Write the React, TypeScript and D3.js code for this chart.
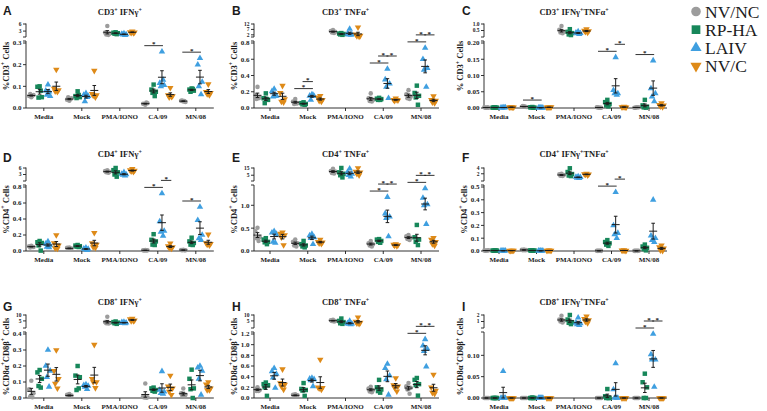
import * as d3 from 'd3';
import * as React from 'react';

const categories = ['Media', 'Mock', 'PMA/IONO', 'CA/09', 'MN/08'];
const groups = ['NV/NC', 'RP-HA', 'LAIV', 'NV/C'];
const groupColors = ['#9c9c9c', '#17875a', '#3f9fe0', '#de8a18'];

// % positive cells: [category][group][animal]
const cd3Ifng = [
  [[0.05, 0.055, 0.06, 0.065, 0.058], [0.1, 0.098, 0.05, 0.048, 0.08], [0.108, 0.08, 0.055, 0.06, 0.075], [0.177, 0.09, 0.083, 0.077, 0.075]],
  [[0.033, 0.038, 0.045, 0.05, 0.04], [0.077, 0.055, 0.05, 0.046, 0.06], [0.068, 0.06, 0.055, 0.03, 0.05], [0.172, 0.065, 0.06, 0.058, 0.05]],
  [[5.2, 2.4, 1.9, 1.6, 1.4], [2.5, 2.3, 2.1, 1.9, 1.7], [2.0, 1.8, 1.6, 1.5, 1.3], [2.9, 2.6, 2.5, 2.3, 2.2]],
  [[0.015, 0.02, 0.022, 0.018, 0.025], [0.108, 0.085, 0.075, 0.07, 0.055], [0.26, 0.115, 0.105, 0.1, 0.13], [0.093, 0.06, 0.055, 0.05, 0.052]],
  [[0.03, 0.033, 0.028, 0.035, 0.032], [0.09, 0.085, 0.08, 0.075, 0.088], [0.23, 0.2, 0.12, 0.1, 0.063], [0.11, 0.075, 0.07, 0.065, 0.06]],
];
const cd3Tnfa = [
  [[0.26, 0.16, 0.13, 0.11, 0.12], [0.18, 0.12, 0.1, 0.06, 0.11], [0.235, 0.205, 0.15, 0.14, 0.15], [0.275, 0.185, 0.11, 0.08, 0.07]],
  [[0.11, 0.08, 0.06, 0.05, 0.055], [0.07, 0.06, 0.05, 0.045, 0.04], [0.165, 0.15, 0.145, 0.1, 0.16], [0.15, 0.13, 0.1, 0.09, 0.08]],
  [[6.5, 5.5, 4.8, 4.2, 3.8], [3.6, 3.2, 2.8, 2.4, 2.0], [7.4, 3, 2.4, 2.2, 2.0], [9, 2.5, 1.2, 0.8, 0.5]],
  [[0.18, 0.12, 0.1, 0.085, 0.08], [0.125, 0.115, 0.11, 0.1, 0.1], [0.48, 0.35, 0.3, 0.26, 0.12], [0.12, 0.1, 0.095, 0.09, 0.1]],
  [[0.22, 0.17, 0.14, 0.12, 0.11], [0.275, 0.185, 0.15, 0.13, 0.04], [0.74, 0.6, 0.49, 0.47, 0.26], [0.145, 0.1, 0.09, 0.07, 0.06]],
];
const cd3Double = [
  [[0.001, 0.002, 0.001, 0.001, 0.002], [0.002, 0.001, 0.001, 0.002, 0.001], [0.002, 0.001, 0.002, 0.001, 0.001], [0.003, 0.002, 0.002, 0.003, 0.002]],
  [[0.005, 0.004, 0.003, 0.006, 0.004], [0.003, 0.002, 0.001, 0.002, 0.001], [0.001, 0.001, 0.0005, 0.001, 0.001], [0.002, 0.002, 0.003, 0.002, 0.002]],
  [[0.85, 0.55, 0.4, 0.35, 0.28], [0.6, 0.4, 0.3, 0.2, 0.15], [0.42, 0.33, 0.3, 0.28, 0.22], [0.6, 0.5, 0.45, 0.4, 0.35]],
  [[0.001, 0.002, 0.001, 0.002, 0.001], [0.025, 0.018, 0.012, 0.008, 0.005], [0.156, 0.055, 0.045, 0.045, 0.04], [0.004, 0.003, 0.002, 0.003, 0.002]],
  [[0.002, 0.001, 0.002, 0.001, 0.002], [0.025, 0.008, 0.004, 0.002, 0.001], [0.146, 0.06, 0.045, 0.035, 0.02], [0.015, 0.01, 0.008, 0.005, 0.003]],
];
const cd4Ifng = [
  [[0.065, 0.06, 0.05, 0.045, 0.05], [0.125, 0.11, 0.1, 0.07, 0.005], [0.12, 0.09, 0.07, 0.05, 0.045], [0.2, 0.1, 0.07, 0.035, 0.03]],
  [[0.045, 0.04, 0.03, 0.025, 0.025], [0.075, 0.068, 0.06, 0.055, 0.05], [0.04, 0.03, 0.025, 0.02, 0.01], [0.228, 0.1, 0.08, 0.05, 0.04]],
  [[5, 4.6, 4.3, 4, 3.8], [6, 5, 4, 3, 2], [4, 3.3, 3, 2.8, 2.5], [5.6, 5, 4.8, 4.5, 4.2]],
  [[0.012, 0.01, 0.008, 0.006, 0.005], [0.21, 0.14, 0.12, 0.08, 0.075], [0.72, 0.37, 0.25, 0.24, 0.19], [0.095, 0.06, 0.05, 0.04, 0.03]],
  [[0.015, 0.012, 0.01, 0.01, 0.008], [0.166, 0.12, 0.1, 0.08, 0.075], [0.55, 0.385, 0.2, 0.157, 0.137], [0.207, 0.1, 0.09, 0.08, 0.07]],
];
const cd4Tnfa = [
  [[0.51, 0.43, 0.3, 0.28, 0.22], [0.28, 0.25, 0.2, 0.19, 0.15], [0.43, 0.4, 0.37, 0.2, 0.18], [0.41, 0.38, 0.35, 0.3, 0.13]],
  [[0.25, 0.2, 0.17, 0.12, 0.1], [0.22, 0.15, 0.12, 0.1, 0.08], [0.37, 0.34, 0.3, 0.28, 0.15], [0.25, 0.2, 0.19, 0.17, 0.16]],
  [[14, 11, 10, 8, 7.5], [15, 9, 7, 5, 2], [14, 9, 7, 5, 3], [15, 10, 9, 7, 5]],
  [[0.22, 0.17, 0.15, 0.12, 0.1], [0.26, 0.25, 0.22, 0.2, 0.18], [1.18, 0.82, 0.75, 0.72, 0.32], [0.15, 0.14, 0.13, 0.12, 0.11]],
  [[0.35, 0.32, 0.29, 0.26, 0.24], [0.57, 0.3, 0.25, 0.2, 0.13], [1.37, 1.16, 1.02, 1.0, 0.59], [0.29, 0.25, 0.2, 0.15, 0.12]],
];
const cd4Double = [
  [[0.004, 0.003, 0.005, 0.002, 0.003], [0.005, 0.004, 0.003, 0.002, 0.004], [0.003, 0.002, 0.002, 0.003, 0.001], [0.004, 0.003, 0.003, 0.002, 0.003]],
  [[0.012, 0.01, 0.008, 0.005, 0.005], [0.006, 0.005, 0.004, 0.003, 0.002], [0.003, 0.002, 0.002, 0.001, 0.001], [0.005, 0.004, 0.004, 0.003, 0.003]],
  [[2.0, 1.8, 1.6, 1.3, 1.2], [3.9, 2.6, 1.9, 1.4, 1.2], [1.1, 0.9, 0.8, 0.6, 0.5], [2.1, 1.9, 1.8, 1.7, 1.5]],
  [[0.002, 0.002, 0.001, 0.001, 0.002], [0.085, 0.07, 0.06, 0.05, 0.04], [0.46, 0.2, 0.14, 0.13, 0.1], [0.006, 0.005, 0.004, 0.003, 0.002]],
  [[0.002, 0.001, 0.002, 0.001, 0.001], [0.05, 0.035, 0.025, 0.015, 0.005], [0.4, 0.12, 0.1, 0.085, 0.07], [0.045, 0.03, 0.02, 0.005, 0.002]],
];
const cd8Ifng = [
  [[0.108, 0.055, 0.03, 0.01, 0.005], [0.175, 0.16, 0.12, 0.075, 0.065], [0.3, 0.2, 0.17, 0.13, 0.07], [0.3, 0.17, 0.12, 0.09, 0.06]],
  [[0.025, 0.02, 0.015, 0.01, 0.01], [0.2, 0.14, 0.13, 0.05, 0.06], [0.085, 0.08, 0.075, 0.07, 0.055], [0.333, 0.12, 0.1, 0.1, 0.063]],
  [[8.6, 4, 3.3, 3, 2.8], [4.5, 4, 3.5, 3, 2.5], [4.2, 3.8, 3.5, 3.2, 2.8], [7, 6.5, 5.5, 5, 5]],
  [[0.09, 0.01, 0.005, 0.003, 0.002], [0.065, 0.06, 0.05, 0.045, 0.04], [0.167, 0.05, 0.04, 0.03, 0.025], [0.14, 0.073, 0.06, 0.04, 0.02]],
  [[0.06, 0.03, 0.02, 0.015, 0.01], [0.177, 0.12, 0.06, 0.055, 0.0], [0.2, 0.19, 0.17, 0.12, 0.02], [0.1, 0.085, 0.06, 0.05, 0.05]],
];
const cd8Tnfa = [
  [[0.2, 0.17, 0.15, 0.13, 0.13], [0.29, 0.26, 0.24, 0.2, 0.04], [0.56, 0.5, 0.45, 0.38, 0.19], [0.54, 0.28, 0.25, 0.22, 0.16]],
  [[0.07, 0.06, 0.05, 0.04, 0.03], [0.28, 0.17, 0.15, 0.14, 0.04], [0.375, 0.36, 0.35, 0.33, 0.22], [0.72, 0.2, 0.19, 0.18, 0.16]],
  [[6, 5.5, 5, 5, 4.5], [7, 5, 4, 3, 2.5], [5, 3, 2.6, 2.4, 2], [8, 4.5, 3.5, 3, 2.5]],
  [[0.21, 0.18, 0.15, 0.12, 0.11], [0.34, 0.2, 0.16, 0.13, 0.1], [0.64, 0.56, 0.42, 0.35, 0.06], [0.375, 0.24, 0.22, 0.19, 0.125]],
  [[0.28, 0.22, 0.19, 0.16, 0.08], [0.375, 0.34, 0.26, 0.24, 0.044], [1.1, 0.98, 0.92, 0.88, 0.59], [0.44, 0.2, 0.14, 0.1, 0.08]],
];
const cd8Double = [
  [[0, 0, 0, 0, 0], [0, 0, 0, 0, 0], [0.063, 0, 0, 0, 0], [0, 0, 0, 0, 0]],
  [[0, 0, 0, 0, 0], [0.001, 0, 0, 0, 0], [0, 0, 0, 0, 0], [0, 0, 0, 0, 0]],
  [[1.9, 1.3, 1.1, 1.0, 0.85], [2.0, 1.3, 0.9, 0.8, 0.6], [1.6, 0.8, 0.7, 0.55, 0.45], [1.8, 1.4, 1.2, 1.0, 0.75]],
  [[0, 0, 0, 0, 0], [0.021, 0.004, 0, 0, 0], [0.081, 0.02, 0, 0, 0], [0, 0, 0, 0, 0]],
  [[0, 0, 0, 0, 0], [0.057, 0.037, 0.025, 0, 0], [0.15, 0.102, 0.09, 0.09, 0.026], [0, 0, 0, 0, 0]],
];

// axis ticks: lower segment, and the segment above the break (PMA/IONO)
const lowTicks = [
  [0, 0.1, 0.2, 0.3], [0, 0.2, 0.4, 0.6, 0.8], [0, 0.05, 0.1, 0.15, 0.2],
  [0, 0.2, 0.4, 0.6, 0.8], [0, 0.5, 1.0], [0, 0.1, 0.2, 0.3, 0.4, 0.5],
  [0, 0.1, 0.2, 0.3, 0.4], [0, 0.2, 0.4, 0.6, 0.8, 1.0, 1.2], [0, 0.05, 0.1],
];
const lowMax = [0.3, 0.8, 0.2, 0.8, 1.4, 0.5, 0.4, 1.2, 0.15];
const highTicks = [[3, 6], [2, 7, 12], [0.5, 1.0], [3, 6], [5, 15], [2, 4], [5, 10], [5, 10], [1, 2]];
const highDomains = [[0.5, 6], [0, 12], [0, 1], [0, 6], [-3, 15], [-0.5, 4], [-1, 10], [-1, 10], [0, 2]];

// significance brackets: [category, group from, group to, stack level]
type Sig = [string, number, number, number];
const cd3IfngSig: Sig[] = [['CA/09', 0, 2, 0], ['MN/08', 0, 2, 0]];
const cd3TnfaSig: Sig[] = [
  ['Mock', 0, 2, 0], ['Mock', 1, 2, 1],
  ['CA/09', 0, 2, 0], ['CA/09', 1, 2, 1], ['CA/09', 2, 3, 1],
  ['MN/08', 0, 2, 0], ['MN/08', 1, 2, 1], ['MN/08', 2, 3, 1],
];
const cd3DoubleSig: Sig[] = [['Mock', 0, 2, 0], ['CA/09', 0, 2, 0], ['CA/09', 2, 3, 1], ['MN/08', 0, 2, 0]];
const cd4IfngSig: Sig[] = [['CA/09', 0, 2, 0], ['CA/09', 2, 3, 1], ['MN/08', 0, 2, 0]];
const cd4TnfaSig: Sig[] = [
  ['CA/09', 0, 2, 0], ['CA/09', 1, 2, 1], ['CA/09', 2, 3, 1],
  ['MN/08', 0, 2, 0], ['MN/08', 1, 2, 1], ['MN/08', 2, 3, 1],
];
const cd4DoubleSig: Sig[] = [['CA/09', 0, 2, 0], ['CA/09', 2, 3, 1]];
const cd8IfngSig: Sig[] = [];
const cd8TnfaSig: Sig[] = [['MN/08', 0, 2, 0], ['MN/08', 1, 2, 1], ['MN/08', 2, 3, 1]];
const cd8DoubleSig: Sig[] = [['MN/08', 0, 2, 0], ['MN/08', 1, 2, 1], ['MN/08', 2, 3, 1]];

const panels = [
  { letter: 'A', title: 'CD3^+ IFNγ^+', yTitle: '%CD3^+ Cells', data: cd3Ifng, sig: cd3IfngSig },
  { letter: 'B', title: 'CD3^+ TNFα^+', yTitle: '%CD3^+ Cells', data: cd3Tnfa, sig: cd3TnfaSig },
  { letter: 'C', title: 'CD3^+ IFNγ^+TNFα^+', yTitle: '% CD3^+ Cells', data: cd3Double, sig: cd3DoubleSig },
  { letter: 'D', title: 'CD4^+ IFNγ^+', yTitle: '%CD4^+ Cells', data: cd4Ifng, sig: cd4IfngSig },
  { letter: 'E', title: 'CD4^+ TNFα^+', yTitle: '%CD4^+ Cells', data: cd4Tnfa, sig: cd4TnfaSig },
  { letter: 'F', title: 'CD4^+ IFNγ^+TNFα^+', yTitle: '%CD4^+ Cells', data: cd4Double, sig: cd4DoubleSig },
  { letter: 'G', title: 'CD8^+ IFNγ^+', yTitle: '%CD8α^+CD8β^+ Cells', data: cd8Ifng, sig: cd8IfngSig },
  { letter: 'H', title: 'CD8^+ TNFα^+', yTitle: '%CD8α^+CD8β^+ Cells', data: cd8Tnfa, sig: cd8TnfaSig },
  { letter: 'I', title: 'CD8^+ IFNγ^+TNFα^+', yTitle: '%CD8α^+CD8β^+ Cells', data: cd8Double, sig: cd8DoubleSig },
];

// grid layout
const AXIS_X = [26, 254, 484];
const CENTERS: [number, number][] = [[43.8, 195.8], [270, 421], [499, 649]];
const ROW_TOP = [24, 168, 315];
const ROW_BOTTOM = [108, 251, 398];
const LETTER_X = [3, 232, 462];
const LETTER_Y = [15, 162, 311];
const TITLE_Y = [15, 157, 305];

const SERIF = "'Liberation Serif', 'Times New Roman', serif";
const SANS = "'Liberation Sans', Arial, sans-serif";
const INK = '#1c1c1c';
const jitter = [0, -2.2, 2.2, -1.1, 1.1];
const markSize = [16, 20, 18, 18];

const symbolPath = (gi: number, size: number) =>
  d3.symbol().type([d3.symbolCircle, d3.symbolSquare, d3.symbolTriangle, d3.symbolTriangle][gi])
    .size(size)() as string;

function Sup({ text, size }: { text: string; size: number }) {
  const parts = text.split(/(\^.)/).filter((s) => s !== '');
  const rise = size * 0.38;
  let up = false;
  return (
    <>
      {parts.map((s, i) => {
        if (s[0] === '^') {
          up = true;
          return <tspan key={i} dy={-rise} fontSize={size * 0.7}>{s.slice(1)}</tspan>;
        }
        const dy = up ? rise : 0;
        up = false;
        return <tspan key={i} dy={dy}>{s}</tspan>;
      })}
    </>
  );
}

const fmtTick = (ticks: number[]) => {
  if (ticks.every((t) => Number.isInteger(t))) return d3.format('d');
  return ticks.some((t) => Math.round(t * 100) % 10 !== 0) ? d3.format('.2f') : d3.format('.1f');
};

function Panel({ idx }: { idx: number }) {
  const p = panels[idx];
  const col = idx % 3;
  const row = Math.floor(idx / 3);
  const ax = AXIS_X[col];
  const top = ROW_TOP[row];
  const bottom = ROW_BOTTOM[row];
  const x = d3.scalePoint<string>().domain(categories).range(CENTERS[col]);
  const gx = d3.scalePoint<number>().domain([0, 1, 2, 3]).range([-12.5, 12.5]);
  const yLow = d3.scaleLinear().domain([0, lowMax[idx]]).range([bottom, top + 19]).clamp(true);
  const yHigh = d3.scaleLinear().domain(highDomains[idx]).range([top + 13, top]);
  const xEnd = CENTERS[col][1] + 18;
  const lowFmt = fmtTick(lowTicks[idx]);
  const highFmt = fmtTick(highTicks[idx]);
  const labelChars = d3.max(lowTicks[idx].map(lowFmt), (s) => s.length)!;
  const yTitleX = ax - 4 - labelChars * 3.5 - 3;

  return (
    <g>
      <text x={LETTER_X[col]} y={LETTER_Y[row]} fontFamily={SANS} fontWeight="bold" fontSize={12} fill={INK}>
        {p.letter}
      </text>
      <text x={x('PMA/IONO')} y={TITLE_Y[row]} textAnchor="middle" fontFamily={SERIF} fontWeight="bold"
        fontSize={8.5} fill={INK}>
        <Sup text={p.title} size={8.5} />
      </text>
      <text transform={`translate(${yTitleX},${(top + bottom) / 2}) rotate(-90)`} textAnchor="middle"
        fontFamily={SERIF} fontWeight="bold" fontSize={8.5} fill={INK}>
        <Sup text={p.yTitle} size={8.5} />
      </text>

      {/* broken y axis */}
      <g stroke={INK} strokeWidth={0.9} fill="none">
        <path d={`M${ax},${top - 0.5}V${top + 13}h-3`} />
        <path d={`M${ax - 3},${top + 17}h3V${bottom}`} />
        <path d={`M${ax},${bottom}H${xEnd}`} />
        {lowTicks[idx].map((t) => <path key={`l${t}`} d={`M${ax - 3},${yLow(t)}h3`} />)}
        {highTicks[idx].map((t) => <path key={`h${t}`} d={`M${ax - 3},${yHigh(t)}h3`} />)}
        {categories.map((c) => <path key={c} d={`M${x(c)},${bottom}v3`} />)}
      </g>
      <g fontFamily={SERIF} fontWeight="bold" fill={INK} textAnchor="end">
        {lowTicks[idx].map((t) => (
          <text key={`l${t}`} x={ax - 4.5} y={yLow(t)} dy="0.35em" fontSize={7}>{lowFmt(t)}</text>
        ))}
        {highTicks[idx].map((t) => (
          <text key={`h${t}`} x={ax - 4.5} y={yHigh(t)} dy="0.35em" fontSize={5.5}>{highFmt(t)}</text>
        ))}
      </g>
      <g fontFamily={SERIF} fontWeight="bold" fontSize={7} fill={INK} textAnchor="middle">
        {categories.map((c) => <text key={c} x={x(c)} y={bottom + 11}>{c}</text>)}
      </g>

      {/* animals */}
      {p.data.map((byGroup, ci) => {
        const y = categories[ci] === 'PMA/IONO' ? yHigh : yLow;
        const cx0 = x(categories[ci])!;
        return byGroup.map((vals, gi) => (
          <g key={`${ci}-${gi}`} fill={groupColors[gi]}>
            {vals.map((v, k) => (
              <path key={k} d={symbolPath(gi, markSize[gi])}
                transform={`translate(${cx0 + gx(gi)! + jitter[k]},${y(v)})${gi === 3 ? ' rotate(180)' : ''}`} />
            ))}
          </g>
        ));
      })}

      {/* mean ± SEM */}
      <g stroke={INK} strokeWidth={1} fill="none">
        {p.data.map((byGroup, ci) => {
          const y = categories[ci] === 'PMA/IONO' ? yHigh : yLow;
          const cx0 = x(categories[ci])!;
          return byGroup.map((vals, gi) => {
            const cx = cx0 + gx(gi)!;
            const m = d3.mean(vals)!;
            const se = (d3.deviation(vals) ?? 0) / Math.sqrt(vals.length);
            const y1 = y(m - se);
            const y2 = y(m + se);
            return (
              <path key={`${ci}-${gi}`}
                d={`M${cx - 4},${y(m)}h8M${cx},${y1}V${y2}M${cx - 1.8},${y1}h3.6M${cx - 1.8},${y2}h3.6`} />
            );
          });
        })}
      </g>

      {/* significance */}
      {p.sig.map(([cat, a, b, level], i) => {
        const ci = categories.indexOf(cat);
        const peak = d3.max(p.data[ci].flat())!;
        const yy = yLow(peak) - 6 - level * 7;
        const x1 = x(cat)! + gx(a)! - 1;
        const x2 = x(cat)! + gx(b)! + 1;
        return (
          <g key={i}>
            <path d={`M${x1},${yy}H${x2}`} stroke={INK} strokeWidth={0.9} />
            <text x={(x1 + x2) / 2} y={yy + 0.8} textAnchor="middle" fontFamily={SERIF} fontWeight="bold"
              fontSize={7} fill={INK}>*</text>
          </g>
        );
      })}
    </g>
  );
}

function Legend() {
  const ly = d3.scalePoint<number>().domain([0, 1, 2, 3]).range([11.5, 66]);
  const sizes = [72, 76, 54, 54];
  return (
    <g>
      {groups.map((g, gi) => (
        <g key={g} transform={`translate(0,${ly(gi)})`}>
          <path d={symbolPath(gi, sizes[gi])} fill={groupColors[gi]}
            transform={`translate(696,0)${gi === 3 ? ' rotate(180)' : ''}`} />
          <text x={705} y={6} fontFamily={SERIF} fontSize={17.5} fill={INK}>{g}</text>
        </g>
      ))}
    </g>
  );
}

export default function App() {
  return (
    <svg width={767} height={411} viewBox="0 0 767 411"
      style={{ position: 'absolute', left: 0, top: 0, display: 'block', background: '#fff' }}>
      <rect width={767} height={411} fill="#fff" />
      {panels.map((_, i) => <Panel key={i} idx={i} />)}
      <Legend />
    </svg>
  );
}
